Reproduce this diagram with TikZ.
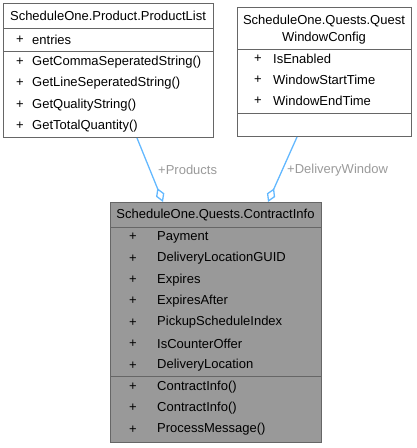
\documentclass[tikz,border=0pt]{standalone}
\usepackage{fontspec}
\setmainfont{Liberation Sans}
\usetikzlibrary{arrows.meta,positioning}
\definecolor{boxline}{HTML}{666666}
\definecolor{boxgrey}{HTML}{999999}
\definecolor{edgeblue}{HTML}{63B8FF}
\definecolor{labelgrey}{HTML}{9A9A9A}

\begin{document}
\begin{tikzpicture}[x=1pt, y=-1pt,
    box/.style={draw=boxline, line width=1pt, fill=white, inner sep=0pt, anchor=north west},
    sep/.style={draw=boxline, line width=1pt},
    txt/.style={inner sep=0pt, font=\fontsize{13}{17}\selectfont},
    mem/.style={txt, anchor=west},
    assoc/.style={draw=edgeblue, line width=1.3pt, -{Diamond[open, length=15pt, width=9pt]}},
    elabel/.style={txt, anchor=west, text=labelgrey}]

    \useasboundingbox (0,0) rectangle (416,448);

    % ProductList (top left)
    \node[box, minimum width=210pt, minimum height=134pt] (plist) at (3,3) {};
    \draw[sep] ([yshift=-25pt]plist.north west) -- ([yshift=-25pt]plist.north east);
    \draw[sep] ([yshift=-48pt]plist.north west) -- ([yshift=-48pt]plist.north east);
    \node[txt] (plistT) at (108,16) {ScheduleOne.Product.ProductList};
    \node[txt] (p0) at (20,40) {+};
    \node[mem] (m0) at (32,40) {entries};
    \node[txt] (p1) at (20,62) {+};
    \node[mem] (m1) at (32,62) {GetCommaSeperatedString()};
    \node[txt] (p2) at (20,83) {+};
    \node[mem] (m2) at (32,83) {GetLineSeperatedString()};
    \node[txt] (p3) at (20,105) {+};
    \node[mem] (m3) at (32,105) {GetQualityString()};
    \node[txt] (p4) at (20,126) {+};
    \node[mem] (m4) at (32,126) {GetTotalQuantity()};

    % QuestWindowConfig (top right)
    \node[box, minimum width=174pt, minimum height=129pt] (qwc) at (237,7) {};
    \draw[sep] ([yshift=-42pt]qwc.north west) -- ([yshift=-42pt]qwc.north east);
    \draw[sep] ([yshift=-106pt]qwc.north west) -- ([yshift=-106pt]qwc.north east);
    \node[txt, align=center] (qwcT) at (324,30) {ScheduleOne.Quests.Quest\\WindowConfig};
    \node[txt] (q1) at (258,59) {+};
    \node[mem] (w1) at (273,59) {IsEnabled};
    \node[txt] (q2) at (258,80) {+};
    \node[mem] (w2) at (273,80) {WindowStartTime};
    \node[txt] (q3) at (258,101) {+};
    \node[mem] (w3) at (273,101) {WindowEndTime};

    % ContractInfo (bottom, highlighted)
    \node[box, fill=boxgrey, minimum width=211pt, minimum height=240pt] (cinfo) at (110,202) {};
    \draw[sep] ([yshift=-25pt]cinfo.north west) -- ([yshift=-25pt]cinfo.north east);
    \draw[sep] ([yshift=-174pt]cinfo.north west) -- ([yshift=-174pt]cinfo.north east);
    \node[txt] (cinfoT) at (215.5,215) {ScheduleOne.Quests.ContractInfo};
    \foreach \name [count=\i] in {Payment, DeliveryLocationGUID, Expires, ExpiresAfter,
        PickupScheduleIndex, IsCounterOffer, DeliveryLocation,
        ContractInfo(), ContractInfo(), ProcessMessage()} {
        \node[txt] (c\i) at (133,{215.5+21.4*\i}) {+};
        \node[mem] (a\i) at (157,{215.5+21.4*\i}) {\name};
    }

    % associations
    \draw[assoc] ([xshift=134pt]plist.south west) -- ([xshift=53pt]cinfo.north west);
    \draw[assoc] ([xshift=60pt]qwc.south west) -- ([xshift=158pt]cinfo.north west);
    \node[elabel] (lProducts) at (158,170) {+Products};
    \node[elabel] (lWindow) at (287,170) {+DeliveryWindow};

\end{tikzpicture}
\end{document}
